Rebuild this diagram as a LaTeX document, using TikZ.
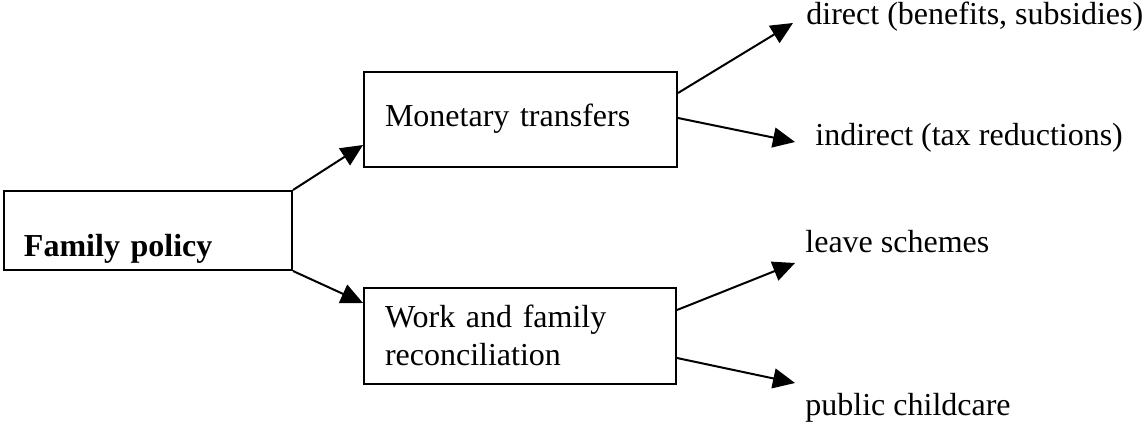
\documentclass[tikz,border=0pt]{standalone}
\usepackage{fontspec}
\setmainfont{Liberation Serif}
\usetikzlibrary{calc,arrows.meta}

\newlength{\du}
\setlength{\du}{0.5pt}

\tikzset{
  box/.style={draw, line width=1pt, rectangle, anchor=north west, inner ysep=0pt, inner xsep=10.5pt, align=left},
  leaf/.style={inner sep=0pt, anchor=base west},
  link/.style={line width=1pt, -{Triangle[length=11pt,width=10pt]}}
}

\begin{document}
\begin{tikzpicture}[x=\du, y=-\du, font=\fontsize{16}{19}\selectfont]
\useasboundingbox (0,0) rectangle (1144,423);
% boxes
\node[box, inner xsep=10pt, text width=124pt, text height=32.5pt, text depth=7pt, font=\fontsize{16}{19}\selectfont\bfseries] (fam) at (3,190) {Family policy};
\node[box, text width=135.5pt, text height=27pt, text depth=20.5pt] (mon) at (363,71) {Monetary transfers};
\node[box, text width=135pt, text height=19.5pt, text depth=28.5pt] (wrk) at (363,287) {Work and family\\reconciliation};
% leaves
\node[leaf] (dir) at (806,25) {direct (benefits, subsidies)};
\node[leaf] (ind) at (815,145) {indirect (tax reductions)};
\node[leaf] (lea) at (805,252) {leave schemes};
\node[leaf] (pub) at (805,415) {public childcare};
% arrows
\draw[link] (fam.north east) -- ($(mon.south west)+(0,-23)$);
\draw[link] (fam.south east) -- ($(wrk.north west)+(0,16)$);
\draw[link] ($(mon.north east)+(0,22)$) -- ($(dir.base west)+(-13,-2)$);
\draw[link] ($(mon.north east)+(0,47)$) -- ($(ind.base west)+(-20,-3)$);
\draw[link] ($(wrk.north east)+(0,23)$) -- ($(lea.base west)+(-10,11)$);
\draw[link] ($(wrk.north east)+(0,71)$) -- ($(pub.base west)+(-10,-32)$);
\end{tikzpicture}
\end{document}
